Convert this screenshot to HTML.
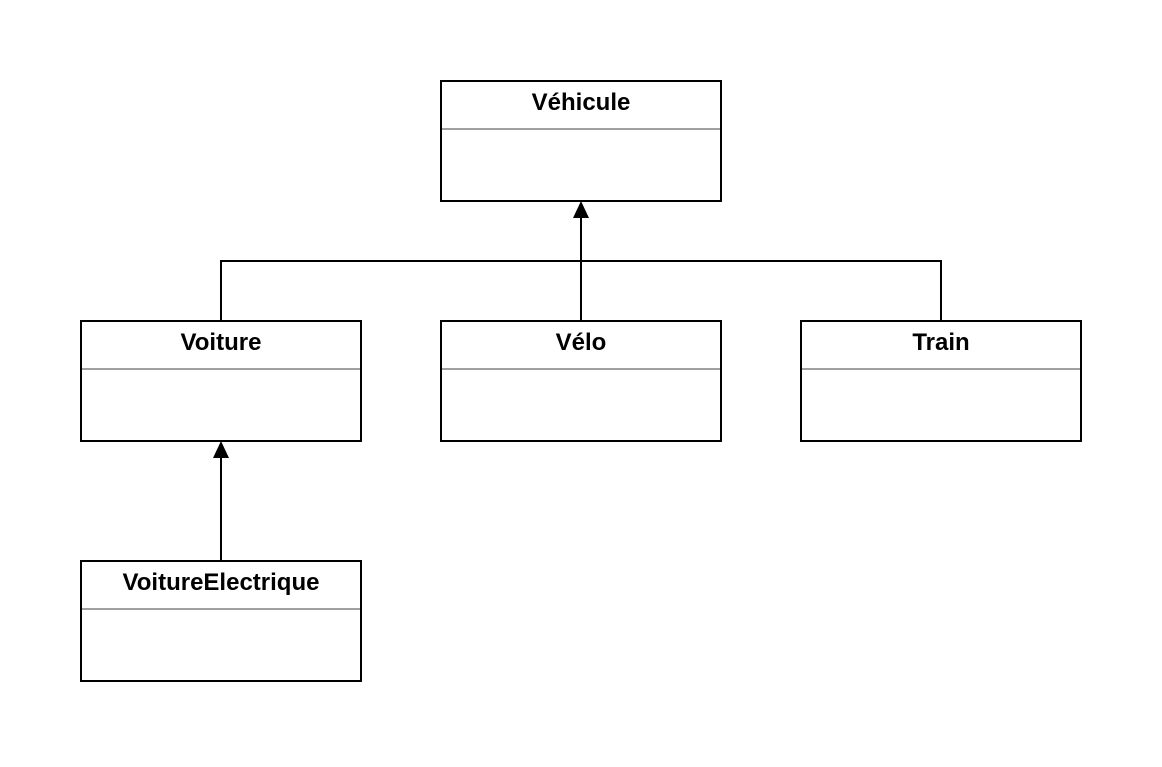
<!DOCTYPE html>
<html><head><meta charset="utf-8"><style>
body{margin:0;background:#fff;}
svg text{font-family:"Liberation Sans",Arial,sans-serif;font-weight:bold;font-size:24px;fill:#000;}
</style></head><body>
<svg width="1162" height="762" xmlns="http://www.w3.org/2000/svg">
<g fill="#fff" stroke="#000" stroke-width="2">
<rect x="441" y="81" width="280" height="120"/>
<rect x="81" y="321" width="280" height="120"/>
<rect x="441" y="321" width="280" height="120"/>
<rect x="801" y="321" width="280" height="120"/>
<rect x="81" y="561" width="280" height="120"/>
</g>
<g stroke="#a0a0a0" stroke-width="2">
<line x1="442" y1="129" x2="720" y2="129"/>
<line x1="82" y1="369" x2="360" y2="369"/>
<line x1="442" y1="369" x2="720" y2="369"/>
<line x1="802" y1="369" x2="1080" y2="369"/>
<line x1="82" y1="609" x2="360" y2="609"/>
</g>
<g stroke="#000" stroke-width="2" fill="none">
<polyline points="221,321 221,261 941,261 941,321"/>
<line x1="581" y1="321" x2="581" y2="216"/>
<line x1="221" y1="561" x2="221" y2="456"/>
</g>
<polygon points="581,201 573,218 589,218" fill="#000"/>
<polygon points="221,441 213,458 229,458" fill="#000"/>
<g text-anchor="middle">
<text x="581" y="110">Véhicule</text>
<text x="221" y="350">Voiture</text>
<text x="581" y="350">Vélo</text>
<text x="941" y="350">Train</text>
<text x="221" y="590">VoitureElectrique</text>
</g>
</svg>
</body></html>
